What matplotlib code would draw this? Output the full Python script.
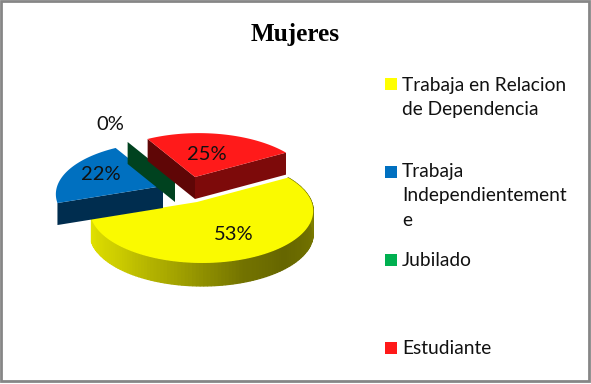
import numpy as np
import matplotlib
matplotlib.use('Agg')
import matplotlib.pyplot as plt

categories = ['Trabaja en Relacion\nde Dependencia', 'Trabaja\nIndependientement\ne', 'Jubilado', 'Estudiante']
values = [53, 22, 0, 25]
pct_labels = ['53%', '22%', '0%', '25%']

top_colors = ['#FAFA00', '#0070C0', '#00B050', '#FF1A1A']
wall_colors = ['#8A8A00', '#002D4F', '#00421F', '#7D0A0A']
side_wall_colors = ['#8A8A00', '#002D4F', '#00421F', '#5F0606']
legend_colors = ['#FFFF00', '#0070C0', '#00B050', '#FF1919']

# apex of each exploded slice, in pixels
apex = [(197, 202), (163, 186), (175, 180), (195, 177)]
pct_pos = [(234, 235), (101, 175), (110, 125), (207, 154)]
legend_y = [78, 166, 254, 342]
legend_text_y = [84, 171, 259, 347]

start_angle = 30
rx, ry, persp, persp_x = 110, 51, 0.163, 0.04
depth = 22


def project(center, deg):
    a = np.radians(deg)
    d = 1 + persp * np.sin(a) - persp_x * np.cos(a)
    return center[0] + rx * np.cos(a) / d, center[1] - ry * np.sin(a) / d


def arc(center, a0, a1):
    n = max(2, int(abs(a1 - a0)) + 1)
    xs, ys = project(center, np.linspace(a0, a1, n))
    return xs, ys


fig = plt.figure(figsize=(5.91, 3.84), dpi=100)
ax = fig.add_axes([0, 0, 1, 1])
ax.set_xlim(0, 591)
ax.set_ylim(384, 0)
ax.axis('off')

# frame
ax.add_patch(plt.Rectangle((1, 1), 587.5, 380, fc='white', ec='#868686', lw=2))

# slice angles, clockwise from the start angle
edges = start_angle - np.cumsum([0] + values) * 3.6
order = [0, 1, 2, 3]


def wall(center, deg, color):
    x, y = project(center, deg)
    cx, cy = center
    ax.fill([cx, x, x, cx], [cy, y, y + depth, cy + depth], color=color, lw=0)


# yellow rim shading: fades from yellow on the left to olive, then a bit lighter
rim_angles = [-165, -130, -100, -70, -48, -25, 0, 30]
rim_shade = [0.90, 0.80, 0.64, 0.45, 0.40, 0.44, 0.50, 0.50]

for i in order:
    a0, a1 = edges[i], edges[i + 1]
    c = apex[i]
    if i == 0:
        aa = np.linspace(a1, a0, 120)
        shade = np.interp(aa, rim_angles, rim_shade)
        for k in range(len(aa) - 1):
            x, y = project(c, aa[k:k + 2])
            ax.fill([x[0], x[1], x[1], x[0]], [y[0], y[1], y[1] + depth + 1, y[0] + depth + 1],
                    color=(shade[k], shade[k], 0), lw=0.9)
    elif i == 1:
        wall(c, a0, wall_colors[i])
    elif i == 2:
        wall(c, a0, wall_colors[i])
    else:
        wall(c, a0, side_wall_colors[i])
        wall(c, a1, wall_colors[i])
    if values[i] > 0:
        xs, ys = arc(c, a0, a1)
        ax.fill(np.r_[c[0], xs], np.r_[c[1], ys], color=top_colors[i], lw=0)

for lab, (x, y) in zip(pct_labels, pct_pos):
    ax.text(x, y, lab, ha='center', va='center', fontsize=14.5, family='Lato', color='#111111')

ax.text(295, 34, 'Mujeres', ha='center', va='center', fontsize=18.2, weight='bold',
        family='Liberation Serif', color='black')

# legend
for cat, col, y, ty in zip(categories, legend_colors, legend_y, legend_text_y):
    ax.add_patch(plt.Rectangle((385, y), 12, 11.5, fc=col, lw=0))
    ax.text(402, ty - 7.5, cat, ha='left', va='top', fontsize=13.8, family='Lato',
            color='#111111', linespacing=1.5)

fig.savefig('out.png', dpi=100)
